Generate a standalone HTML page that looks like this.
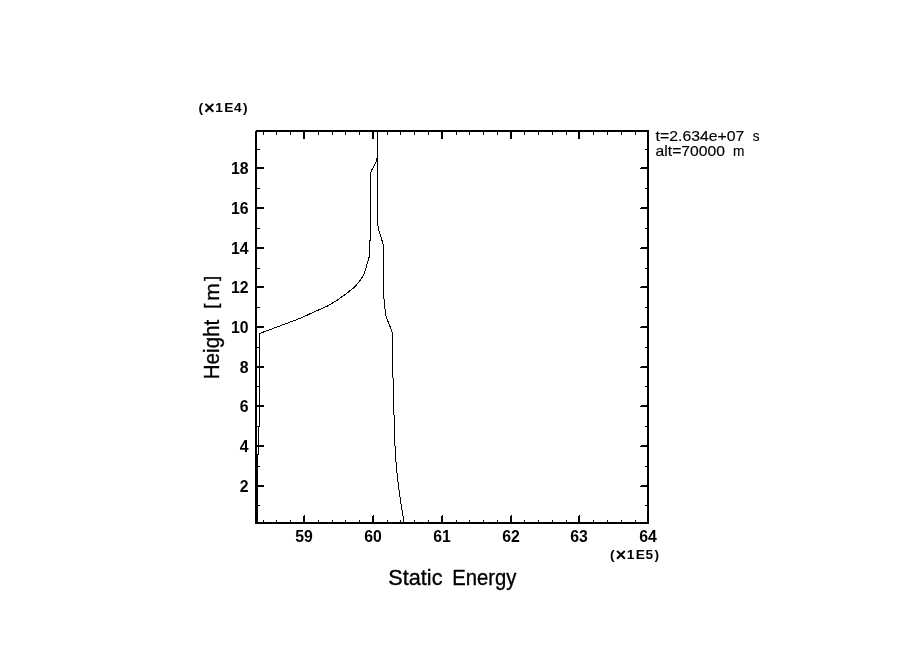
<!DOCTYPE html>
<html><head><meta charset="utf-8"><title>Static Energy</title>
<style>
html,body{margin:0;padding:0;background:#fff;}
body{width:904px;height:654px;overflow:hidden;}
svg{display:block;}
text{font-family:"Liberation Sans",sans-serif;fill:#000;}
.b{font-weight:bold;}
</style></head><body>
<svg width="904" height="654" viewBox="0 0 904 654">
<rect x="0" y="0" width="904" height="654" fill="#fff"/>
<g shape-rendering="crispEdges" stroke="#000" fill="none">
<rect x="256" y="131" width="392" height="392" stroke-width="2"/>
<line x1="304" y1="132" x2="304" y2="139" stroke-width="2"/>
<line x1="303.5" y1="522" x2="303.5" y2="516" stroke-width="1"/>
<line x1="304.5" y1="522" x2="304.5" y2="515" stroke-width="1"/>
<line x1="373" y1="132" x2="373" y2="139" stroke-width="2"/>
<line x1="372.5" y1="522" x2="372.5" y2="516" stroke-width="1"/>
<line x1="373.5" y1="522" x2="373.5" y2="515" stroke-width="1"/>
<line x1="442" y1="132" x2="442" y2="139" stroke-width="2"/>
<line x1="441.5" y1="522" x2="441.5" y2="516" stroke-width="1"/>
<line x1="442.5" y1="522" x2="442.5" y2="515" stroke-width="1"/>
<line x1="511" y1="132" x2="511" y2="139" stroke-width="2"/>
<line x1="510.5" y1="522" x2="510.5" y2="516" stroke-width="1"/>
<line x1="511.5" y1="522" x2="511.5" y2="515" stroke-width="1"/>
<line x1="579" y1="132" x2="579" y2="139" stroke-width="2"/>
<line x1="578.5" y1="522" x2="578.5" y2="516" stroke-width="1"/>
<line x1="579.5" y1="522" x2="579.5" y2="515" stroke-width="1"/>
<line x1="263.5" y1="132" x2="263.5" y2="135" stroke-width="1"/>
<line x1="263.5" y1="522" x2="263.5" y2="520" stroke-width="1"/>
<line x1="276.5" y1="132" x2="276.5" y2="135" stroke-width="1"/>
<line x1="276.5" y1="522" x2="276.5" y2="520" stroke-width="1"/>
<line x1="290.5" y1="132" x2="290.5" y2="135" stroke-width="1"/>
<line x1="290.5" y1="522" x2="290.5" y2="520" stroke-width="1"/>
<line x1="318.5" y1="132" x2="318.5" y2="135" stroke-width="1"/>
<line x1="318.5" y1="522" x2="318.5" y2="520" stroke-width="1"/>
<line x1="332.5" y1="132" x2="332.5" y2="135" stroke-width="1"/>
<line x1="332.5" y1="522" x2="332.5" y2="520" stroke-width="1"/>
<line x1="345.5" y1="132" x2="345.5" y2="135" stroke-width="1"/>
<line x1="345.5" y1="522" x2="345.5" y2="520" stroke-width="1"/>
<line x1="359.5" y1="132" x2="359.5" y2="135" stroke-width="1"/>
<line x1="359.5" y1="522" x2="359.5" y2="520" stroke-width="1"/>
<line x1="387.5" y1="132" x2="387.5" y2="135" stroke-width="1"/>
<line x1="387.5" y1="522" x2="387.5" y2="520" stroke-width="1"/>
<line x1="400.5" y1="132" x2="400.5" y2="135" stroke-width="1"/>
<line x1="400.5" y1="522" x2="400.5" y2="520" stroke-width="1"/>
<line x1="414.5" y1="132" x2="414.5" y2="135" stroke-width="1"/>
<line x1="414.5" y1="522" x2="414.5" y2="520" stroke-width="1"/>
<line x1="428.5" y1="132" x2="428.5" y2="135" stroke-width="1"/>
<line x1="428.5" y1="522" x2="428.5" y2="520" stroke-width="1"/>
<line x1="456.5" y1="132" x2="456.5" y2="135" stroke-width="1"/>
<line x1="456.5" y1="522" x2="456.5" y2="520" stroke-width="1"/>
<line x1="469.5" y1="132" x2="469.5" y2="135" stroke-width="1"/>
<line x1="469.5" y1="522" x2="469.5" y2="520" stroke-width="1"/>
<line x1="483.5" y1="132" x2="483.5" y2="135" stroke-width="1"/>
<line x1="483.5" y1="522" x2="483.5" y2="520" stroke-width="1"/>
<line x1="497.5" y1="132" x2="497.5" y2="135" stroke-width="1"/>
<line x1="497.5" y1="522" x2="497.5" y2="520" stroke-width="1"/>
<line x1="524.5" y1="132" x2="524.5" y2="135" stroke-width="1"/>
<line x1="524.5" y1="522" x2="524.5" y2="520" stroke-width="1"/>
<line x1="538.5" y1="132" x2="538.5" y2="135" stroke-width="1"/>
<line x1="538.5" y1="522" x2="538.5" y2="520" stroke-width="1"/>
<line x1="552.5" y1="132" x2="552.5" y2="135" stroke-width="1"/>
<line x1="552.5" y1="522" x2="552.5" y2="520" stroke-width="1"/>
<line x1="566.5" y1="132" x2="566.5" y2="135" stroke-width="1"/>
<line x1="566.5" y1="522" x2="566.5" y2="520" stroke-width="1"/>
<line x1="593.5" y1="132" x2="593.5" y2="135" stroke-width="1"/>
<line x1="593.5" y1="522" x2="593.5" y2="520" stroke-width="1"/>
<line x1="607.5" y1="132" x2="607.5" y2="135" stroke-width="1"/>
<line x1="607.5" y1="522" x2="607.5" y2="520" stroke-width="1"/>
<line x1="621.5" y1="132" x2="621.5" y2="135" stroke-width="1"/>
<line x1="621.5" y1="522" x2="621.5" y2="520" stroke-width="1"/>
<line x1="635.5" y1="132" x2="635.5" y2="135" stroke-width="1"/>
<line x1="635.5" y1="522" x2="635.5" y2="520" stroke-width="1"/>
<line x1="257" y1="168" x2="264" y2="168" stroke-width="2"/>
<line x1="647" y1="167.5" x2="641" y2="167.5" stroke-width="1"/>
<line x1="647" y1="168.5" x2="640" y2="168.5" stroke-width="1"/>
<line x1="257" y1="208" x2="264" y2="208" stroke-width="2"/>
<line x1="647" y1="207.5" x2="641" y2="207.5" stroke-width="1"/>
<line x1="647" y1="208.5" x2="640" y2="208.5" stroke-width="1"/>
<line x1="257" y1="248" x2="264" y2="248" stroke-width="2"/>
<line x1="647" y1="247.5" x2="641" y2="247.5" stroke-width="1"/>
<line x1="647" y1="248.5" x2="640" y2="248.5" stroke-width="1"/>
<line x1="257" y1="287" x2="264" y2="287" stroke-width="2"/>
<line x1="647" y1="286.5" x2="641" y2="286.5" stroke-width="1"/>
<line x1="647" y1="287.5" x2="640" y2="287.5" stroke-width="1"/>
<line x1="257" y1="327" x2="264" y2="327" stroke-width="2"/>
<line x1="647" y1="326.5" x2="641" y2="326.5" stroke-width="1"/>
<line x1="647" y1="327.5" x2="640" y2="327.5" stroke-width="1"/>
<line x1="257" y1="367" x2="264" y2="367" stroke-width="2"/>
<line x1="647" y1="366.5" x2="641" y2="366.5" stroke-width="1"/>
<line x1="647" y1="367.5" x2="640" y2="367.5" stroke-width="1"/>
<line x1="257" y1="406" x2="264" y2="406" stroke-width="2"/>
<line x1="647" y1="405.5" x2="641" y2="405.5" stroke-width="1"/>
<line x1="647" y1="406.5" x2="640" y2="406.5" stroke-width="1"/>
<line x1="257" y1="446" x2="264" y2="446" stroke-width="2"/>
<line x1="647" y1="445.5" x2="641" y2="445.5" stroke-width="1"/>
<line x1="647" y1="446.5" x2="640" y2="446.5" stroke-width="1"/>
<line x1="257" y1="486" x2="264" y2="486" stroke-width="2"/>
<line x1="647" y1="485.5" x2="641" y2="485.5" stroke-width="1"/>
<line x1="647" y1="486.5" x2="640" y2="486.5" stroke-width="1"/>
<line x1="257" y1="149.5" x2="260" y2="149.5" stroke-width="1"/>
<line x1="647" y1="149.5" x2="645" y2="149.5" stroke-width="1"/>
<line x1="257" y1="188.5" x2="260" y2="188.5" stroke-width="1"/>
<line x1="647" y1="188.5" x2="645" y2="188.5" stroke-width="1"/>
<line x1="257" y1="228.5" x2="260" y2="228.5" stroke-width="1"/>
<line x1="647" y1="228.5" x2="645" y2="228.5" stroke-width="1"/>
<line x1="257" y1="268.5" x2="260" y2="268.5" stroke-width="1"/>
<line x1="647" y1="268.5" x2="645" y2="268.5" stroke-width="1"/>
<line x1="257" y1="307.5" x2="260" y2="307.5" stroke-width="1"/>
<line x1="647" y1="307.5" x2="645" y2="307.5" stroke-width="1"/>
<line x1="257" y1="347.5" x2="260" y2="347.5" stroke-width="1"/>
<line x1="647" y1="347.5" x2="645" y2="347.5" stroke-width="1"/>
<line x1="257" y1="386.5" x2="260" y2="386.5" stroke-width="1"/>
<line x1="647" y1="386.5" x2="645" y2="386.5" stroke-width="1"/>
<line x1="257" y1="426.5" x2="260" y2="426.5" stroke-width="1"/>
<line x1="647" y1="426.5" x2="645" y2="426.5" stroke-width="1"/>
<line x1="257" y1="466.5" x2="260" y2="466.5" stroke-width="1"/>
<line x1="647" y1="466.5" x2="645" y2="466.5" stroke-width="1"/>
<line x1="257" y1="505.5" x2="260" y2="505.5" stroke-width="1"/>
<line x1="647" y1="505.5" x2="645" y2="505.5" stroke-width="1"/>
<rect x="255" y="130" width="1" height="1" fill="#fff" stroke="none"/>
<polyline stroke-width="1" points="257.5,523 257.5,454 258.5,454 258.5,426 259.5,426 259.5,333.6 262,332.6 280,325.9 300,318.4 309.2,314.2 318.3,310.1 327.5,306 336.7,300.5 345.9,294 355,286.7 359.6,281.2 364.2,273.9 366.1,267.4 367.9,261 369.5,256 369.5,240 370.5,240 370.5,172.7 372.5,168.6 375.5,163.3 376.5,160 377.5,156.5 377.5,131"/>
<polyline stroke-width="1" points="404.05,523 403.5,519.5 402.5,513 401.5,507 400.5,501 399.5,493.5 398.5,486 397.5,478 396.5,468 395.5,456 394.6,437 393.5,396.5 392.5,358 392.5,333 385.5,315 384.5,303 383.5,295 383.5,245.3 378.5,229 377.5,222 377.5,131"/>
</g>
<text x="248.5" y="174" font-size="15.8" text-anchor="end" class="b">18</text>
<text x="248.5" y="214" font-size="15.8" text-anchor="end" class="b">16</text>
<text x="248.5" y="254" font-size="15.8" text-anchor="end" class="b">14</text>
<text x="248.5" y="293" font-size="15.8" text-anchor="end" class="b">12</text>
<text x="248.5" y="333" font-size="15.8" text-anchor="end" class="b">10</text>
<text x="248.5" y="373" font-size="15.8" text-anchor="end" class="b">8</text>
<text x="248.5" y="412" font-size="15.8" text-anchor="end" class="b">6</text>
<text x="248.5" y="452" font-size="15.8" text-anchor="end" class="b">4</text>
<text x="248.5" y="492" font-size="15.8" text-anchor="end" class="b">2</text>
<text x="304" y="542" font-size="15.8" text-anchor="middle" class="b">59</text>
<text x="373" y="542" font-size="15.8" text-anchor="middle" class="b">60</text>
<text x="442" y="542" font-size="15.8" text-anchor="middle" class="b">61</text>
<text x="511" y="542" font-size="15.8" text-anchor="middle" class="b">62</text>
<text x="579" y="542" font-size="15.8" text-anchor="middle" class="b">63</text>
<text x="648" y="542" font-size="15.8" text-anchor="middle" class="b">64</text>
<text y="112.0" font-size="13.7" class="b" text-anchor="middle"><tspan x="200.8">(</tspan><tspan x="209.5" dy="2.3" font-size="18.5">×</tspan><tspan x="219.0" dy="-2.3">1</tspan><tspan x="228.8">E</tspan><tspan x="237.7">4</tspan><tspan x="245.3">)</tspan></text>
<text y="558.9" font-size="13.7" class="b" text-anchor="middle"><tspan x="612.3">(</tspan><tspan x="621.0" dy="2.3" font-size="18.5">×</tspan><tspan x="630.5" dy="-2.3">1</tspan><tspan x="640.3">E</tspan><tspan x="649.2">5</tspan><tspan x="656.8">)</tspan></text>
<text x="388.3" y="584.6" font-size="21.6" text-anchor="start" textLength="54.2" lengthAdjust="spacingAndGlyphs" stroke="#000" stroke-width="0.35">Static</text>
<text x="452.3" y="584.6" font-size="21.6" text-anchor="start" textLength="64.2" lengthAdjust="spacingAndGlyphs" stroke="#000" stroke-width="0.35">Energy</text>
<g transform="translate(218.5,379.3) rotate(-90)">
<text x="0" y="0" font-size="21.6" text-anchor="start" textLength="59.6" lengthAdjust="spacingAndGlyphs" stroke="#000" stroke-width="0.35">Height</text>
<text y="0" font-size="21.6" text-anchor="middle" stroke="#000" stroke-width="0.35"><tspan x="73.4" dy="-1.3" font-size="18">[</tspan><tspan x="87.2" dy="1.3" font-size="20.8">m</tspan><tspan x="100.8" dy="-1.3" font-size="18">]</tspan></text>
</g>
<text x="655.6" y="140.7" font-size="14.2" text-anchor="start" textLength="88.8" lengthAdjust="spacingAndGlyphs" stroke="#000" stroke-width="0.15">t=2.634e+07</text>
<text x="752.7" y="140.7" font-size="14.2" text-anchor="start" textLength="6.8" lengthAdjust="spacingAndGlyphs" stroke="#000" stroke-width="0.15">s</text>
<text x="655.6" y="155.8" font-size="14.2" text-anchor="start" textLength="69.4" lengthAdjust="spacingAndGlyphs" stroke="#000" stroke-width="0.15">alt=70000</text>
<text x="733.0" y="155.8" font-size="14.2" text-anchor="start" textLength="11.4" lengthAdjust="spacingAndGlyphs" stroke="#000" stroke-width="0.15">m</text>
</svg></body></html>
